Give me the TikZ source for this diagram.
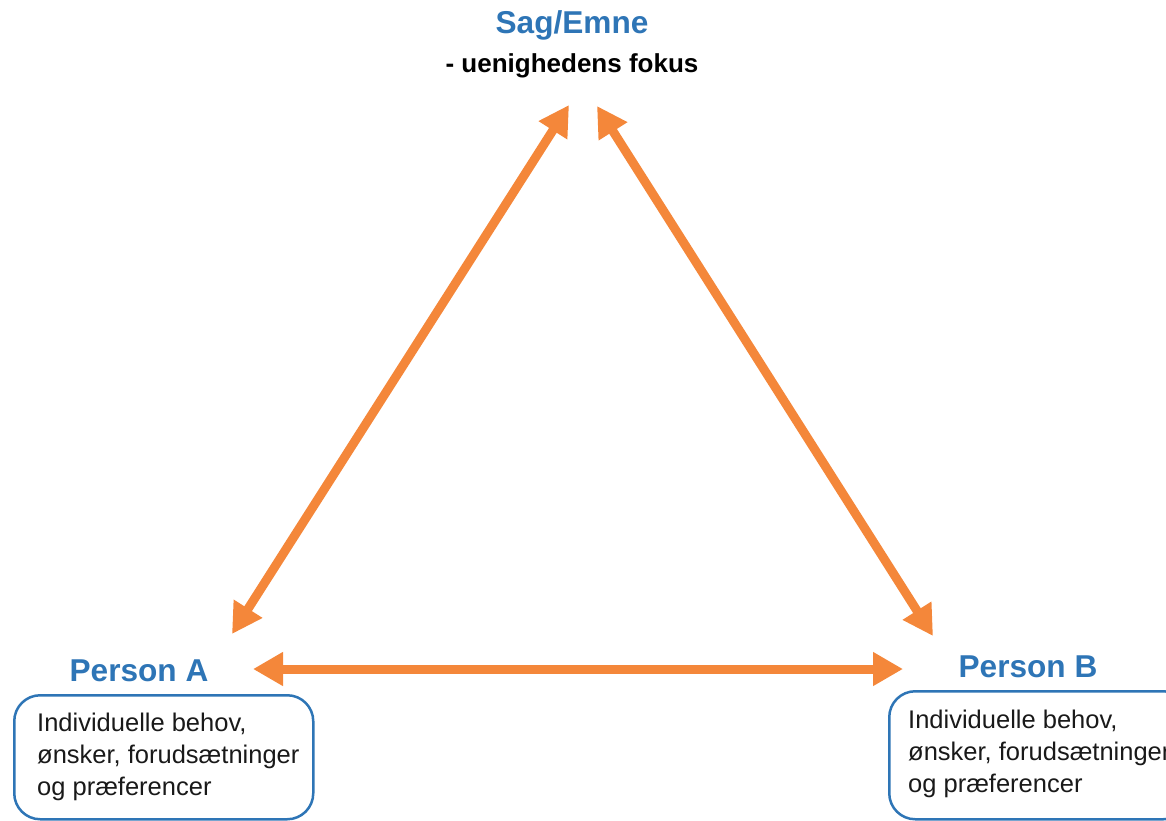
\documentclass[tikz,border=0pt]{standalone}
\usepackage{fontspec}
\setmainfont{Liberation Sans}
\usetikzlibrary{arrows.meta}
\definecolor{arrorange}{HTML}{F4873A}
\definecolor{titleblue}{HTML}{2E75B6}
\definecolor{boxblue}{HTML}{2E75B6}
\tikzset{
  conn/.style={draw=arrorange, line width=9pt,
    {Triangle[length=30pt,width=32pt]}-{Triangle[length=30pt,width=32pt]}},
  title/.style={text=titleblue, font=\fontsize{31.6}{36}\selectfont\bfseries, inner sep=0pt, anchor=base},
  sub/.style={text=black, font=\fontsize{26}{30}\selectfont\bfseries, inner sep=0pt, anchor=base},
  infobox/.style={draw=boxblue, line width=2.5pt, rounded corners=26pt, inner sep=0pt, anchor=north west},
  infotext/.style={text=black!90, font=\fontsize{25.5}{32}\selectfont, align=left, inner sep=0pt, anchor=north west},
}
\begin{document}
\begin{tikzpicture}[x=1pt,y=-1pt]
\useasboundingbox (0,0) rectangle (1166,820);
\clip (0,0) rectangle (1166,820);
% titles
\node[title] (sag) at (572,33) {Sag/Emne};
\node[sub] (fokus) at (572,72) {- uenighedens fokus};
\node[title] (pa) at (139,681) {Person A};
\node[title] (pb) at (1028,677) {Person B};
% boxes
\node[infobox, minimum width=299pt, minimum height=124pt] (boxa) at (13,694) {};
\node[infobox, minimum width=300pt, minimum height=128pt] (boxb) at (888,690) {};
\node[infotext] (ta) at (37,712.5) {Individuelle behov,\\ønsker, forudsætninger\\og præferencer};
\node[infotext] (tb) at (908,709.5) {Individuelle behov,\\ønsker, forudsætninger\\og præferencer};
% arrow end points
\coordinate (sagL) at (569,105);
\coordinate (sagR) at (597,106);
\coordinate (aUp) at (232,634);
\coordinate (bUp) at (933,636);
\coordinate (aSide) at (253,669);
\coordinate (bSide) at (903,669);
% connectors
\draw[conn] (sagL) -- (aUp);
\draw[conn] (sagR) -- (bUp);
\draw[conn] (aSide) -- (bSide);
\end{tikzpicture}
\end{document}
